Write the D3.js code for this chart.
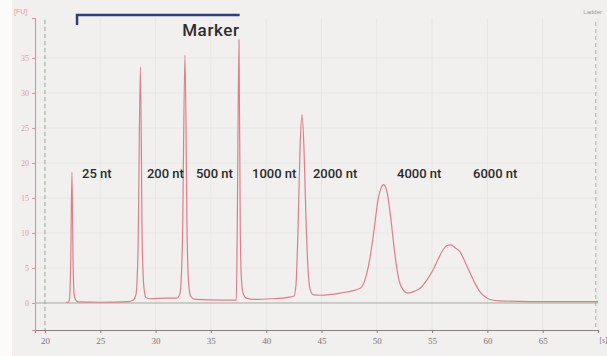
<!DOCTYPE html>
<html>
<head>
<meta charset="utf-8">
<script src="https://cdn.jsdelivr.net/npm/d3@7"></script>
<style>
  body { margin: 0; background: #f1f0ee; }
  svg { display: block; }
</style>
</head>
<body>
<script>
// 画布
const width = 607;
const height = 356;

// 迁移时间 (s) 和荧光值 (FU)
const times = [21.9, 22.1, 22.22, 22.33, 22.44, 22.54, 22.64, 22.78, 23.0, 25.0,
  27.5, 27.96, 28.23, 28.42, 28.63, 28.8, 28.95, 29.13, 29.5, 31.0,
  31.93, 32.2, 32.42, 32.66, 32.86, 33.02, 33.2, 33.6, 36.0, 37.3,
  37.38, 37.54, 37.66, 37.78, 37.95, 38.2, 39.0, 40.5, 42.0, 42.51,
  42.69, 42.87, 43.06, 43.24, 43.42, 43.6, 43.78, 43.96, 44.23, 44.86,
  46.7, 48.5, 48.93, 49.38, 49.75, 50.11, 50.38, 50.62, 50.92, 51.28,
  51.64, 52.0, 52.37, 52.82, 53.45, 53.91, 54.54, 55.08, 55.53, 55.99,
  56.35, 56.71, 57.07, 57.52, 57.97, 58.43, 58.88, 59.33, 59.79, 60.24,
  61.14, 63.85, 70.0];
const fluor = [0.1, 0.1, 0.6, 6, 18.7, 6, 1.2, 0.4, 0.15, 0.1,
  0.2, 0.4, 1.2, 8, 33.7, 8, 2.2, 0.8, 0.6, 0.7,
  0.7, 1.3, 8, 35.4, 9, 2.2, 0.9, 0.5, 0.4, 0.4,
  10, 37.6, 10, 3, 1.2, 0.7, 0.5, 0.6, 0.8, 1.0,
  2.5, 10, 22, 26.9, 22, 12, 5, 2, 1.2, 1.1,
  1.4, 2.1, 3.3, 6.4, 10.4, 14.7, 16.4, 16.9, 15.9, 11.9,
  6.9, 3.3, 1.9, 1.4, 1.7, 2.1, 3.3, 4.7, 6.2, 7.6,
  8.2, 8.3, 7.9, 7.3, 5.9, 4.3, 2.8, 1.6, 0.9, 0.5,
  0.3, 0.2, 0.2];

// 峰的标注
const peakLabels = ['25 nt', '200 nt', '500 nt', '1000 nt', '2000 nt', '4000 nt', '6000 nt'];
const labelTimes = [23.35, 29.22, 33.65, 38.72, 44.23, 51.83, 58.7];
const labelLevel = 17.9;

// 刻度
const xTicks = [20, 25, 30, 35, 40, 45, 50, 55, 60, 65];
const yTicks = [0, 5, 10, 15, 20, 25, 30, 35];

// Marker 括号的范围 (s)
const markerRange = [22.9, 37.6];
const ladderLine = 69.8;

const x = d3.scaleLinear().domain([19.1, 70]).range([35, 598]);
const y = d3.scaleLinear().domain([-3.86, 40.7]).range([330, 18]);

const svg = d3.select('body').append('svg')
    .attr('width', width)
    .attr('height', height);

svg.append('rect')
    .attr('x', 0).attr('y', 0)
    .attr('width', 12).attr('height', height)
    .attr('fill', '#fbfbfa');

// 网格
svg.append('g')
  .selectAll('line')
  .data(xTicks.concat([70]))
  .enter().append('line')
    .attr('x1', d => x(d)).attr('x2', d => x(d))
    .attr('y1', y.range()[1]).attr('y2', y.range()[0])
    .attr('stroke', '#e3e3e1').attr('stroke-width', 0.7);

svg.append('g')
  .selectAll('line')
  .data(yTicks.slice(1))
  .enter().append('line')
    .attr('x1', x.range()[0]).attr('x2', x.range()[1])
    .attr('y1', d => y(d)).attr('y2', d => y(d))
    .attr('stroke', '#e3e3e1').attr('stroke-width', 0.7);

// 虚线
svg.append('line')
    .attr('x1', x(20)).attr('x2', x(20))
    .attr('y1', 20).attr('y2', 330)
    .attr('stroke', '#93b293').attr('stroke-width', 1)
    .attr('stroke-dasharray', '4,3');

svg.append('line')
    .attr('x1', x(ladderLine)).attr('x2', x(ladderLine))
    .attr('y1', 22).attr('y2', 330)
    .attr('stroke', '#9fb49f').attr('stroke-width', 1)
    .attr('stroke-dasharray', '4,3');

// 零线
svg.append('line')
    .attr('x1', x.range()[0]).attr('x2', x.range()[1])
    .attr('y1', y(0)).attr('y2', y(0))
    .attr('stroke', '#a2aa9e').attr('stroke-width', 1);

// x轴
const xAxis = d3.axisBottom(x)
    .tickValues(xTicks.concat([70]))
    .tickSize(3)
    .tickFormat(d => d === 70 ? '[s]' : d);

const gx = svg.append('g')
    .attr('transform', 'translate(0,' + y.range()[0] + ')')
    .call(xAxis);
gx.select('.domain').attr('stroke', '#8c7f80').attr('stroke-width', 1.2);
gx.selectAll('.tick line').attr('stroke', '#8c7f80');
gx.selectAll('.tick text')
    .attr('fill', '#7c7474')
    .attr('font-family', 'Liberation Serif, serif')
    .attr('font-size', 9)
    .attr('dy', '0.9em');
gx.selectAll('.tick').filter(d => d === 70).select('text')
    .attr('text-anchor', 'start')
    .attr('font-size', 7.5)
    .attr('dx', 1);

// y轴
const yAxis = d3.axisLeft(y)
    .tickValues(yTicks)
    .tickSize(3);

const gy = svg.append('g')
    .attr('transform', 'translate(' + x.range()[0] + ',0)')
    .call(yAxis);
gy.select('.domain').attr('stroke', '#dc909a').attr('stroke-width', 1.1);
gy.selectAll('.tick line').attr('stroke', '#dc909a');
gy.selectAll('.tick text')
    .attr('fill', '#e39aa3')
    .attr('font-family', 'Liberation Serif, serif')
    .attr('font-size', 8);

svg.append('text')
    .attr('x', 14).attr('y', 14)
    .attr('fill', '#e39aa3')
    .attr('font-family', 'Liberation Sans, sans-serif')
    .attr('font-size', 7)
    .text('[FU]');

svg.append('text')
    .attr('x', 602).attr('y', 14)
    .attr('text-anchor', 'end')
    .attr('fill', '#9a9a9a')
    .attr('font-family', 'Liberation Sans, sans-serif')
    .attr('font-size', 6)
    .text('Ladder');

// 电泳曲线
const line = d3.line()
    .x((d, i) => x(times[i]))
    .y(d => y(d))
    .curve(d3.curveMonotoneX);

svg.append('path')
    .datum(fluor)
    .attr('d', line)
    .attr('fill', 'none')
    .attr('stroke', '#dc7f8a')
    .attr('stroke-width', 1.2)
    .attr('stroke-linejoin', 'round');

// 峰的文字
svg.selectAll('.peak-label')
    .data(peakLabels)
    .enter().append('text')
    .attr('class', 'peak-label')
    .attr('x', (d, i) => x(labelTimes[i]))
    .attr('y', y(labelLevel))
    .attr('fill', '#2b2b2b')
    .attr('font-family', 'Roboto, sans-serif')
    .attr('font-weight', 500)
    .attr('font-size', 13)
    .text(d => d);

// Marker 括号
svg.append('path')
    .attr('d', 'M' + x(markerRange[0]) + ',25V15H' + x(markerRange[1]))
    .attr('fill', 'none')
    .attr('stroke', '#2b3f78')
    .attr('stroke-width', 2.5);

svg.append('text')
    .attr('x', x(markerRange[1]))
    .attr('y', 36)
    .attr('text-anchor', 'end')
    .attr('fill', '#2e2e2e')
    .attr('font-family', 'Roboto, sans-serif')
    .attr('font-weight', 500)
    .attr('font-size', 17)
    .attr('letter-spacing', 0.6)
    .text('Marker');
</script>
</body>
</html>
